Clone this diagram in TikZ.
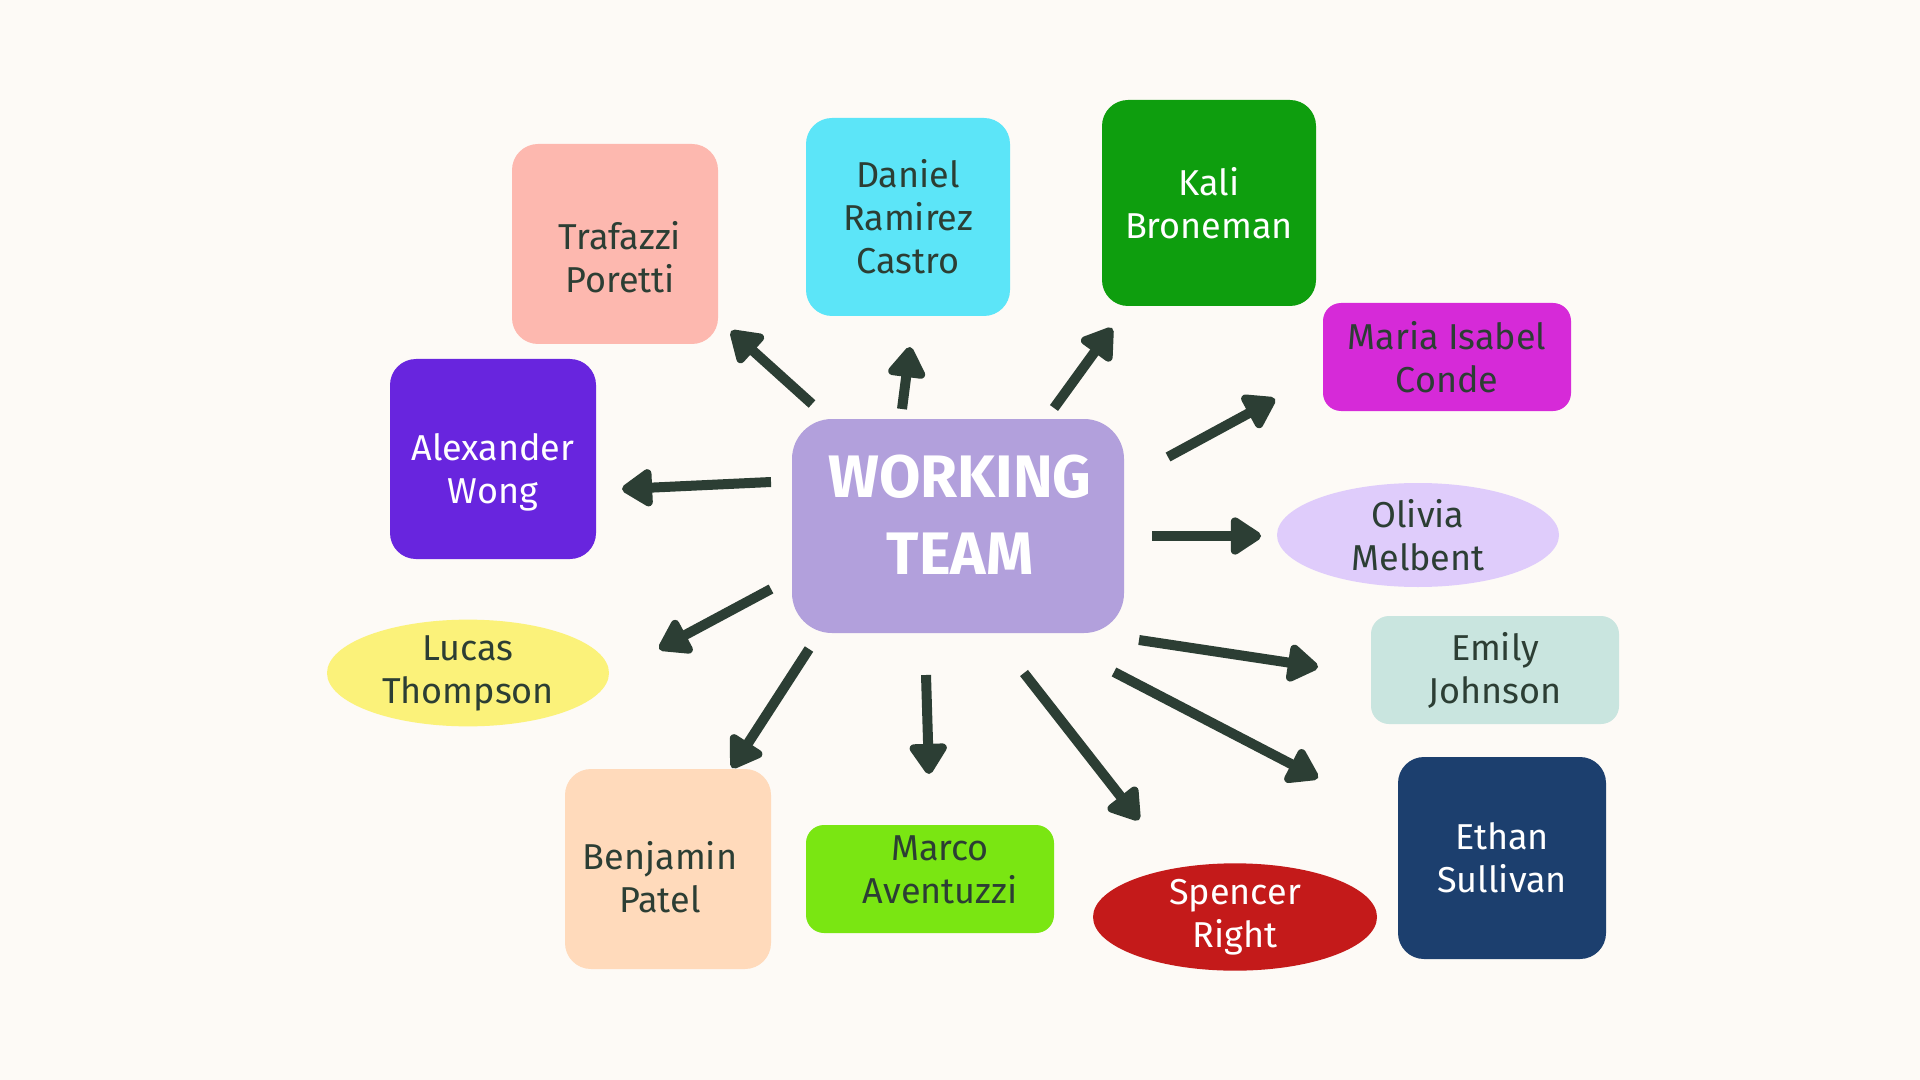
\documentclass[tikz,border=0pt]{standalone}
\usepackage{fontspec}
\setmainfont{Fira Sans}
\usetikzlibrary{arrows.meta,shapes.geometric}
\definecolor{bgc}{RGB}{253,250,246}
\definecolor{ink}{RGB}{44,62,52}
\definecolor{cwt}{RGB}{178,160,220}
\definecolor{ctraf}{RGB}{253,184,175}
\definecolor{cdan}{RGB}{92,229,248}
\definecolor{ckali}{RGB}{14,158,14}
\definecolor{cmar}{RGB}{214,42,216}
\definecolor{coli}{RGB}{223,204,251}
\definecolor{cemi}{RGB}{201,229,223}
\definecolor{ceth}{RGB}{28,63,110}
\definecolor{cspe}{RGB}{196,26,26}
\definecolor{cmarco}{RGB}{122,230,18}
\definecolor{cben}{RGB}{255,218,187}
\definecolor{cluc}{RGB}{251,242,122}
\definecolor{calex}{RGB}{104,37,222}
\tikzset{
  box/.style={rectangle, rounded corners=13pt, inner sep=0pt, align=center,
    font=\fontsize{18}{21.5}\selectfont, text=ink},
  oval/.style={ellipse, inner sep=0pt, align=center,
    font=\fontsize{18}{21.5}\selectfont, text=ink},
  txt/.style={inner sep=0pt, align=center, font=\fontsize{18}{21.5}\selectfont, text=ink},
  arr/.style={draw=ink, line width=5pt,
    -{Triangle[length=17pt,width=21pt,round]}},
}
\begin{document}
\begin{tikzpicture}[x=0.5pt,y=-0.5pt]
\useasboundingbox[fill=bgc] (0,0) rectangle (1920,1080);
% central node
\node[box, fill=cwt, minimum width=166pt, minimum height=107pt,
  rounded corners=20pt] (wt) at (958,526) {};
\node[txt, text=white, font=\fontsize{30}{38.5}\selectfont\bfseries] (wtt) at (960,515) {WORKING\\TEAM};
% members
\node[box, fill=ctraf, minimum width=103pt, minimum height=100pt] (traf) at (615,244) {};
\node[txt] (traft) at (620,257) {Trafazzi\\Poretti};
\node[box, fill=cdan, minimum width=102pt, minimum height=99pt] (dan) at (908,217) {Daniel\\Ramirez\\Castro};
\node[box, fill=ckali, text=white, minimum width=107pt, minimum height=103pt] (kali) at (1209,203) {Kali\\Broneman};
\node[box, fill=cmar, minimum width=124pt, minimum height=54pt, rounded corners=9pt] (mar) at (1447,357) {Maria Isabel\\Conde};
\node[oval, fill=coli, minimum width=141pt, minimum height=52pt] (oli) at (1418,535) {Olivia\\Melbent};
\node[box, fill=cemi, minimum width=124pt, minimum height=54pt, rounded corners=9pt] (emi) at (1495,670) {Emily\\Johnson};
\node[box, fill=ceth, text=white, minimum width=104pt, minimum height=101pt] (eth) at (1502,858) {Ethan\\Sullivan};
\node[oval, fill=cspe, text=white, minimum width=142pt, minimum height=53pt] (spe) at (1235,917) {Spencer\\Right};
\node[box, fill=cmarco, minimum width=124pt, minimum height=54pt, rounded corners=9pt] (marco) at (930,879) {};
\node[txt] (marcot) at (940,870) {Marco\\Aventuzzi};
\node[box, fill=cben, minimum width=103pt, minimum height=100pt] (ben) at (668,869) {};
\node[txt] (bent) at (660,877) {Benjamin\\Patel};
\node[oval, fill=cluc, minimum width=141pt, minimum height=52pt] (luc) at (468,673) {Lucas\\Thompson};
\node[box, fill=calex, text=white, minimum width=103pt, minimum height=100pt] (alex) at (493,459) {};
\node[txt, text=white] (alext) at (493,472) {Alexander\\Wong};
% arrow end points
\coordinate (t1) at (812,404);  \coordinate (h1) at (731,331);
\coordinate (t2) at (902,409);  \coordinate (h2) at (910,347);
\coordinate (t3) at (1054,408); \coordinate (h3) at (1112,328);
\coordinate (t4) at (1168,457); \coordinate (h4) at (1275,399);
\coordinate (t5) at (1152,536); \coordinate (h5) at (1261,536);
\coordinate (t6) at (1139,640); \coordinate (h6) at (1318,667);
\coordinate (t7) at (1114,672); \coordinate (h7) at (1318,778);
\coordinate (t8) at (1024,673); \coordinate (h8) at (1139,820);
\coordinate (t9) at (926,675);  \coordinate (h9) at (929,774);
\coordinate (t10) at (809,649); \coordinate (h10) at (732,768);
\coordinate (t11) at (771,589); \coordinate (h11) at (659,649);
\coordinate (t12) at (771,482); \coordinate (h12) at (622,489);
\foreach \i in {1,...,12}{\draw[arr] (t\i) -- (h\i);}
\end{tikzpicture}
\end{document}
